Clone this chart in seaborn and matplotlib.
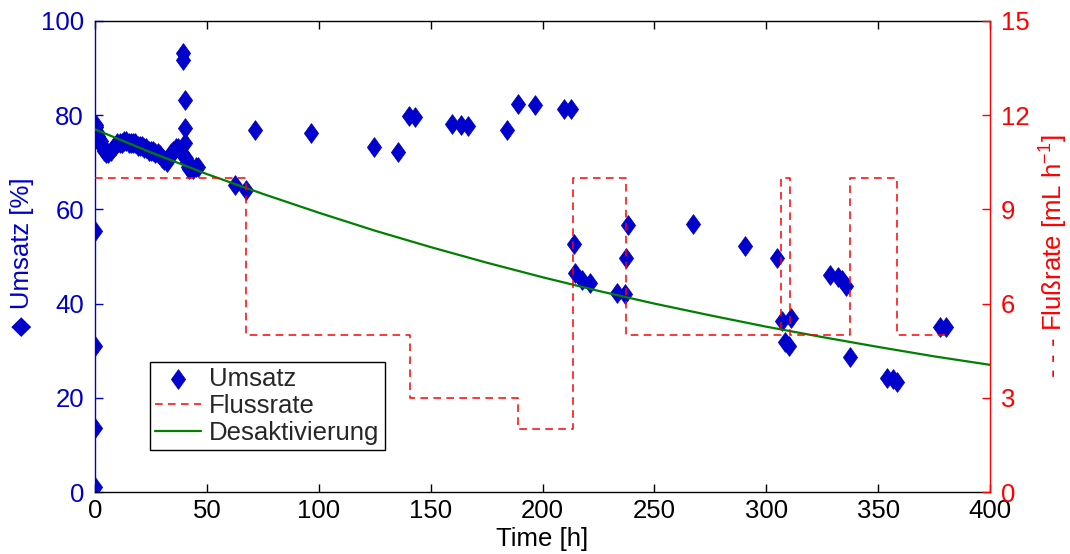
import numpy as np
import pandas as pd
import matplotlib
matplotlib.use("Agg")
import matplotlib.pyplot as plt
import seaborn as sns

# ---- Data ----
umsatz_time = [0.0, 0.0, 0.0, 0.0, 0.3, 0.6, 1.0, 1.5, 2.0, 2.5, 3.0, 3.5, 4.0, 5.0, 6.0, 7.0,
               8.0, 9.0, 10.0, 11.0, 12.0, 13.0, 14.0, 15.0, 16.0, 17.0, 18.0, 19.0, 20.0,
               21.0, 22.0, 23.0, 24.0, 25.0, 26.0, 27.0, 28.0, 29.0, 30.0, 31.0, 32.0, 33.0,
               34.0, 35.0, 36.0, 37.0, 38.0, 39.0, 39.5, 39.5, 40.0, 40.0, 40.0, 40.5, 41.0,
               41.5, 42.0, 43.0, 44.0, 45.0, 46.0,
               62.6, 67.5, 71.5, 96.5, 124.7, 135.4, 140.3, 143.0, 159.6, 163.6, 166.7,
               184.1, 189.0, 196.6, 209.6, 212.7, 214.1, 214.5, 217.5, 221.2, 233.2, 236.9,
               238.4, 237.3, 267.3, 290.5, 304.6, 306.9, 310.9, 308.4, 310.3, 328.5, 332.2,
               333.7, 335.6, 337.4, 353.8, 356.5, 358.3, 377.7, 380.3]
umsatz_value = [1.1, 13.6, 30.9, 55.5, 77.5, 78.0, 76.5, 75.5, 75.0, 74.5, 73.5, 73.0, 72.5,
                72.0, 72.0, 72.5, 73.0, 73.5, 74.0, 74.0, 74.0, 74.5, 74.5, 74.0, 74.0, 74.0,
                74.0, 73.5, 73.5, 73.5, 73.0, 73.0, 72.5, 72.5, 72.5, 72.0, 72.0, 71.5, 71.0,
                70.5, 70.0, 71.0, 72.0, 72.5, 73.0, 73.0, 72.5, 72.0, 93.1, 91.7, 83.2, 77.2,
                74.0, 71.0, 70.0, 69.0, 68.5, 69.0, 68.5, 69.0, 69.0,
                65.2, 64.1, 76.9, 76.2, 73.2, 72.2, 79.8, 79.6, 78.1, 77.9, 77.7,
                76.9, 82.4, 82.2, 81.3, 81.3, 52.6, 46.6, 45.0, 44.3, 42.2, 42.0,
                56.7, 49.6, 56.9, 52.2, 49.7, 36.4, 36.9, 31.9, 30.9, 46.1, 45.7,
                45.0, 43.8, 28.7, 24.1, 23.9, 23.4, 35.1, 35.0]

flow_time = [0.0, 67.5, 141.0, 189.0, 213.8, 237.2, 306.8, 310.5, 337.4, 358.5, 380.0]
flow_rate = [10, 5, 3, 2, 10, 5, 10, 5, 10, 5, 5]

deakt_time = [0, 25, 50, 75, 100, 125, 150, 175, 200, 225, 250, 275, 300, 325, 350, 375, 400]
deakt_value = [77.0, 72.1, 67.5, 63.3, 59.3, 55.5, 52.0, 48.7, 45.6, 42.7, 40.0, 37.5,
               35.1, 32.9, 30.8, 28.8, 27.0]

x_ticks = [0, 50, 100, 150, 200, 250, 300, 350, 400]
y_left_ticks = [0, 20, 40, 60, 80, 100]
y_right_ticks = [0, 3, 6, 9, 12, 15]

# ---- Style ----
sns.set_style("white")
FS = 18.5
plt.rcParams["font.family"] = ["Liberation Sans", "DejaVu Sans"]
plt.rcParams["font.size"] = FS
plt.rcParams["mathtext.fontset"] = "custom"
plt.rcParams["mathtext.rm"] = "Liberation Sans"
plt.rcParams["mathtext.it"] = "Liberation Sans"

BLUE = "#0000CC"
RED = "#FF0000"
GREEN = "#008000"

fig = plt.figure(figsize=(10.7, 5.54), dpi=100)
ax = fig.add_axes([95 / 1070, 62 / 554, 895 / 1070, 471 / 554])
ax2 = ax.twinx()

diamond = [(0, 1), (0.72, 0), (0, -1), (-0.72, 0), (0, 1)]

df_u = pd.DataFrame({"t": umsatz_time, "u": umsatz_value})
df_f = pd.DataFrame({"t": flow_time, "f": flow_rate})
df_d = pd.DataFrame({"t": deakt_time, "d": deakt_value})

sns.scatterplot(data=df_u, x="t", y="u", ax=ax, marker=diamond, s=200, color=BLUE,
                edgecolor=BLUE, linewidth=0.6, label="Umsatz", zorder=2, legend=False)
sns.lineplot(data=df_d, x="t", y="d", ax=ax, color=GREEN, linewidth=1.6,
             label="Desaktivierung", zorder=3, legend=False)
sns.lineplot(data=df_f, x="t", y="f", ax=ax2, color=RED, linewidth=1.1,
             drawstyle="steps-post", linestyle=(0, (5, 3.5)), label="Flussrate",
             legend=False, estimator=None)

ax.set_xlim(0, 400)
ax.set_ylim(0, 100)
ax2.set_ylim(0, 15)
ax.set_xticks(x_ticks)
ax.set_yticks(y_left_ticks)
ax2.set_yticks(y_right_ticks)

ax.set_xlabel("Time [h]", color="black", labelpad=3)
ax.set_ylabel("\u25C6 Umsatz [%]", color=BLUE, labelpad=5)
ax2.set_ylabel("- - - Flußrate [mL h$^{-1}$]", color=RED, labelpad=6)

ax.tick_params(axis="x", direction="in", length=6, width=1, colors="black",
               top=True, bottom=True, pad=5)
ax.tick_params(axis="y", direction="in", length=6, width=1, colors=BLUE, pad=8)
ax2.tick_params(axis="y", direction="in", length=6, width=1, colors=RED, pad=8)

for s in ["top", "bottom"]:
    ax.spines[s].set_color("black")
    ax.spines[s].set_linewidth(1.0)
ax.spines["left"].set_color(BLUE)
ax.spines["left"].set_linewidth(1.0)
ax.spines["right"].set_visible(False)
for s in ["top", "bottom", "left"]:
    ax2.spines[s].set_visible(False)
ax2.spines["right"].set_color(RED)
ax2.spines["right"].set_linewidth(1.0)

h1, l1 = ax.get_legend_handles_labels()
h2, l2 = ax2.get_legend_handles_labels()
order = {"Umsatz": 0, "Flussrate": 1, "Desaktivierung": 2}
hl = sorted(zip(h1 + h2, l1 + l2), key=lambda p: order[p[1]])
leg = ax2.legend([h for h, _ in hl], [l for _, l in hl], loc="upper left",
                 bbox_to_anchor=(55 / 895, 130 / 471), fancybox=False, framealpha=1,
                 edgecolor="black", fontsize=FS, handlelength=1.8, handletextpad=0.3,
                 borderpad=0.2, labelspacing=0.12, borderaxespad=0)
leg.get_frame().set_linewidth(1.0)

fig.savefig("out.png", dpi=100)
